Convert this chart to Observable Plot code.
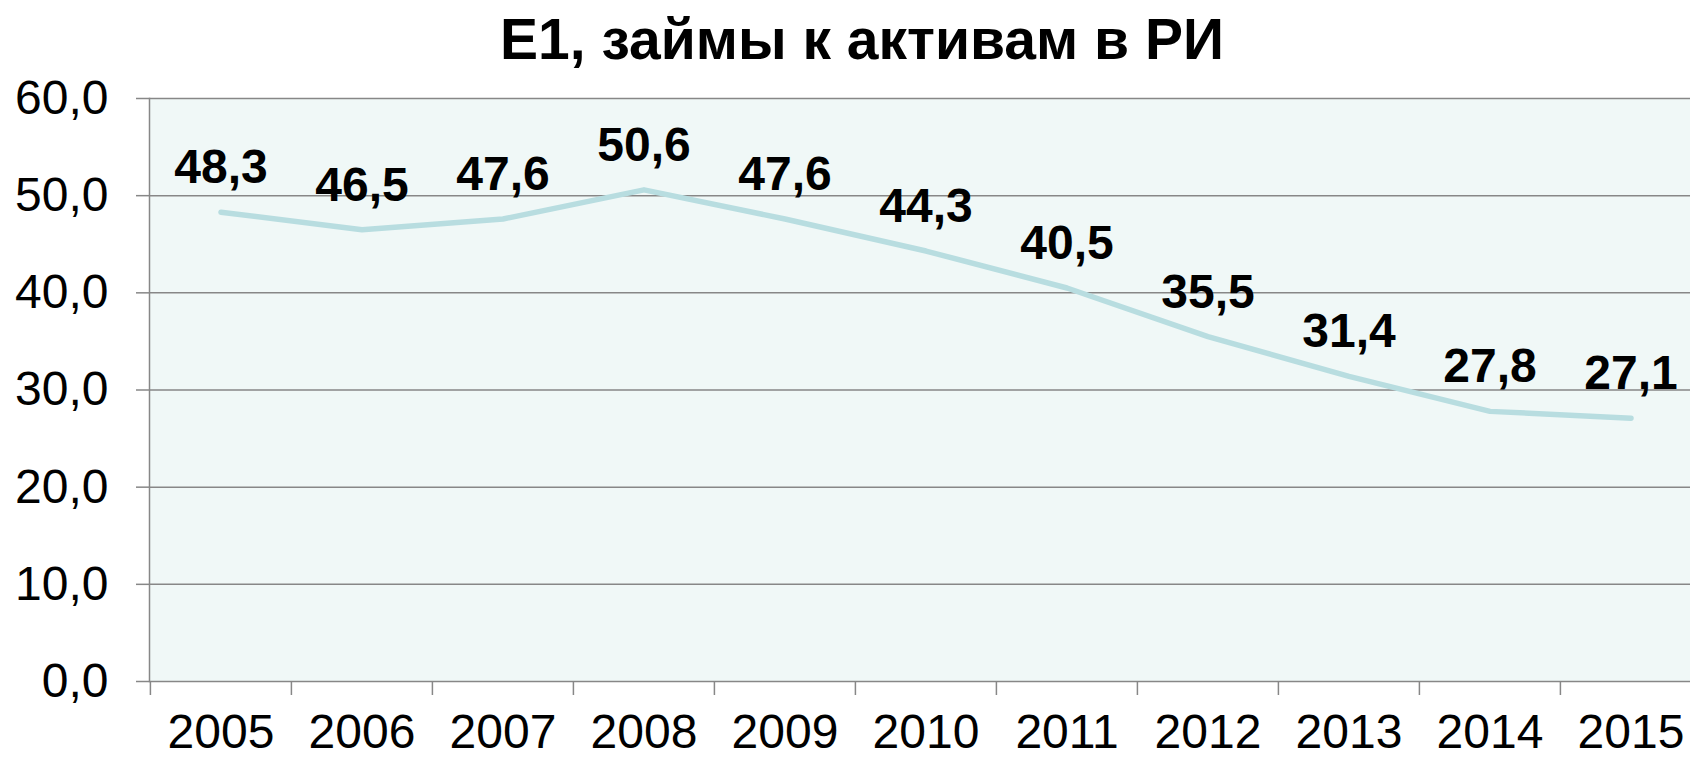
<!DOCTYPE html>
<html>
<head>
<meta charset="utf-8">
<script src="https://cdn.jsdelivr.net/npm/d3@7"></script>
<script src="https://cdn.jsdelivr.net/npm/@observablehq/plot@0.6"></script>
<style>
  html, body { margin: 0; padding: 0; background: #fff; overflow: hidden; width: 1690px; height: 757px; }
  #title { width: 1724px; height: 70px; overflow: visible; text-align: center; font-family: "Liberation Sans", Arial, sans-serif; font-weight: bold; font-size: 57px; line-height: 78px; color: #000; }
  #chart { width: 1702px; }
  #chart svg { display: block; overflow: visible; max-width: none; }
</style>
</head>
<body>
<div id="title">E1, займы к активам в РИ</div>
<div id="chart"></div>
<script>
const years = ["2005","2006","2007","2008","2009","2010","2011","2012","2013","2014","2015"];
const values = [48.3, 46.5, 47.6, 50.6, 47.6, 44.3, 40.5, 35.5, 31.4, 27.8, 27.1];
const yTicks = [0, 10, 20, 30, 40, 50, 60];

const data = years.map((y, i) => ({year: y, value: values[i]}));
const fmt = v => v.toFixed(1).replace(".", ",");

const W = 1702, H = 687, mL = 149, mR = 0, mT = 28, mB = 76;
const bw = (W - mL - mR) / years.length;
const grid = "#878787";
const font = "Liberation Sans, Arial, sans-serif";

const chart = Plot.plot({
  width: W,
  height: H,
  marginLeft: mL,
  marginRight: mR,
  marginTop: mT,
  marginBottom: mB,
  style: {fontFamily: font, background: "transparent", color: "#000", overflow: "visible", maxWidth: "none"},
  x: {type: "band", domain: years, padding: 0, axis: null},
  y: {domain: [0, 60], axis: null},
  marks: [
    Plot.frame({fill: "#f0f8f7", stroke: null}),
    Plot.gridY(yTicks, {stroke: grid, strokeOpacity: 1, strokeWidth: 1.5}),
    Plot.frame({anchor: "left", stroke: grid, strokeWidth: 1.5}),
    Plot.axisY(yTicks, {tickSize: 13, tickPadding: 28, tickFormat: fmt, fontSize: 48, stroke: grid, strokeWidth: 1.5, fill: "#000", label: null}),
    Plot.axisX(years, {tickSize: 14, dx: -bw / 2, text: null, stroke: grid, strokeWidth: 1.5, label: null}),
    Plot.axisX(years, {tickSize: 0, tickPadding: 32, fontSize: 48, fill: "#000", label: null}),
    Plot.line(data, {x: "year", y: "value", stroke: "#b8dde0", strokeWidth: 5.5, strokeLinejoin: "round", strokeLinecap: "round"}),
    Plot.text(data, {x: "year", y: "value", text: d => fmt(d.value), lineAnchor: "bottom", dy: -29, fontSize: 48, fontWeight: "bold", fill: "#000"})
  ]
});
chart.style.maxWidth = "none";
document.getElementById("chart").appendChild(chart);
</script>
</body>
</html>
